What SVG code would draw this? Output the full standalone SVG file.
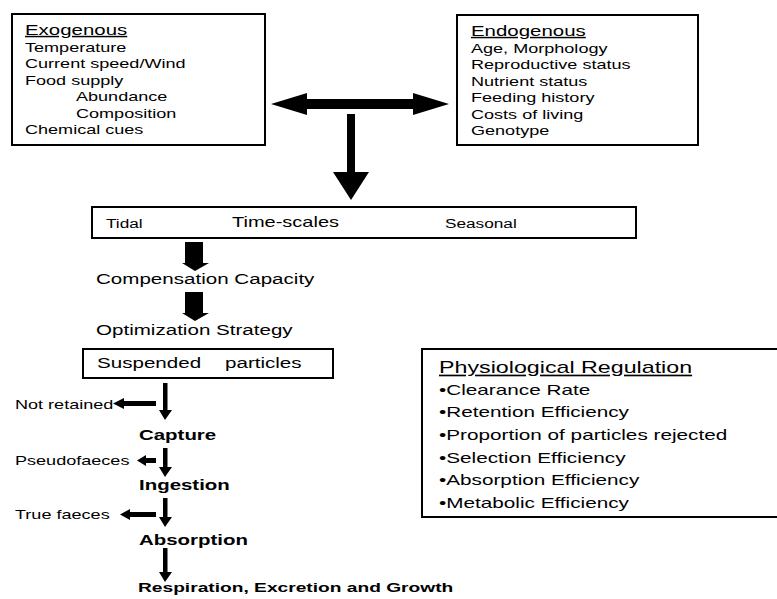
<svg xmlns="http://www.w3.org/2000/svg" width="777" height="599" viewBox="0 0 777 599">
<style>
text{font-family:"Liberation Sans",Arial,sans-serif;fill:#000}
.hd{font-size:14.6px;text-decoration:underline}
.bd{font-size:12.9px}
.ts{font-size:14.3px}
.sm{font-size:12.3px}
.md{font-size:14.7px}
.bo{font-size:14.6px;font-weight:bold}
.bo2{font-size:13.7px;font-weight:bold}
.ph{font-size:16.6px;text-decoration:underline}
.bl{font-size:14.8px}
.box{fill:#fff;stroke:#000;stroke-width:2}
.arr{fill:#000;stroke:none}
</style>
<rect width="777" height="599" fill="#fff"/>
<g id="exogenous">
<rect class="box" x="12" y="14" width="253" height="131"/>
<text class="hd" transform="matrix(1.4 0 0 1 25 35)">Exogenous</text>
<text class="bd" transform="matrix(1.4 0 0 1 25 52)">Temperature</text>
<text class="bd" transform="matrix(1.4 0 0 1 25 68)">Current speed/Wind</text>
<text class="bd" transform="matrix(1.4 0 0 1 25 85)">Food supply</text>
<text class="bd" transform="matrix(1.4 0 0 1 76 101)">Abundance</text>
<text class="bd" transform="matrix(1.4 0 0 1 76 118)">Composition</text>
<text class="bd" transform="matrix(1.4 0 0 1 25 134)">Chemical cues</text>
</g>
<g id="endogenous">
<rect class="box" x="457" y="15" width="241" height="130"/>
<text class="hd" transform="matrix(1.4 0 0 1 471 36)">Endogenous</text>
<text class="bd" transform="matrix(1.4 0 0 1 471 53)">Age, Morphology</text>
<text class="bd" transform="matrix(1.4 0 0 1 471 69)">Reproductive status</text>
<text class="bd" transform="matrix(1.4 0 0 1 471 86)">Nutrient status</text>
<text class="bd" transform="matrix(1.4 0 0 1 471 102)">Feeding history</text>
<text class="bd" transform="matrix(1.4 0 0 1 471 119)">Costs of living</text>
<text class="bd" transform="matrix(1.4 0 0 1 471 135)">Genotype</text>
</g>
<g id="timescales">
<rect class="box" x="92" y="207" width="544" height="31" stroke-width="2.5"/>
<text class="sm" transform="matrix(1.4 0 0 1 106 228)">Tidal</text>
<text class="ts" transform="matrix(1.4 0 0 1 232 227)">Time-scales</text>
<text class="sm" transform="matrix(1.4 0 0 1 445 228)">Seasonal</text>
</g>
<g id="compensation">
<text class="md" transform="matrix(1.4 0 0 1 96 284)">Compensation Capacity</text>
</g>
<g id="optimization">
<text class="md" transform="matrix(1.4 0 0 1 96 335)">Optimization Strategy</text>
</g>
<g id="suspended">
<rect class="box" x="83" y="349" width="250" height="29" stroke-width="1.5"/>
<text class="md" transform="matrix(1.4 0 0 1 97 368)">Suspended</text>
<text class="md" transform="matrix(1.4 0 0 1 225 368)">particles</text>
</g>
<g id="notretained"><text class="bd" transform="matrix(1.4 0 0 1 15 409)">Not retained</text></g>
<g id="capture"><text class="bo" transform="matrix(1.4 0 0 1 139 440)">Capture</text></g>
<g id="pseudofaeces"><text class="bd" transform="matrix(1.4 0 0 1 15 465)">Pseudofaeces</text></g>
<g id="ingestion"><text class="bo" transform="matrix(1.4 0 0 1 139 490)">Ingestion</text></g>
<g id="truefaeces"><text class="bd" transform="matrix(1.4 0 0 1 15 519)">True faeces</text></g>
<g id="absorption"><text class="bo" transform="matrix(1.4 0 0 1 139 545)">Absorption</text></g>
<g id="respiration"><text class="bo2" transform="matrix(1.4 0 0 1 138 592)">Respiration, Excretion and Growth</text></g>
<g id="physiological">
<rect class="box" x="422" y="349" width="370" height="168" stroke-width="3"/>
<text class="ph" transform="matrix(1.4 0 0 1 439 373)">Physiological Regulation</text>
<text class="bl" transform="matrix(1.4 0 0 1 439 395)">•Clearance Rate</text>
<text class="bl" transform="matrix(1.4 0 0 1 439 417)">•Retention Efficiency</text>
<text class="bl" transform="matrix(1.4 0 0 1 439 440)">•Proportion of particles rejected</text>
<text class="bl" transform="matrix(1.4 0 0 1 439 463)">•Selection Efficiency</text>
<text class="bl" transform="matrix(1.4 0 0 1 439 485)">•Absorption Efficiency</text>
<text class="bl" transform="matrix(1.4 0 0 1 439 508)">•Metabolic Efficiency</text>
</g>
<g id="connectors">
<polygon class="arr" points="271,104 307,93 307,99 413,99 413,93 449,104 413,115 413,109 307,109 307,115"/>
<polygon class="arr" points="347,114 355,114 355,172 369,172 351,200 333,172 347,172"/>
<polygon class="arr" points="185,242 203,242 203,263 209,263 195,271 182,263 185,263"/>
<polygon class="arr" points="185,292 203,292 203,313 209,313 195,321 182,313 185,313"/>
<polygon class="arr" points="163,383 167.5,383 167.5,410 172,410 165,420 159,410 163,410"/>
<polygon class="arr" points="163,448 167.5,448 167.5,467 172,467 165,477 159,467 163,467"/>
<polygon class="arr" points="163,498 167.5,498 167.5,517 172,517 165,527 159,517 163,517"/>
<polygon class="arr" points="163,548 167.5,548 167.5,572 172,572 165,582 159,572 163,572"/>
<polygon class="arr" points="156,401 124,401 124,398 113,403.5 124,409 124,406 156,406"/>
<polygon class="arr" points="156,458 146,458 146,455 137,460.5 146,466 146,463 156,463"/>
<polygon class="arr" points="156,512 130,512 130,509 120,514.5 130,520 130,517 156,517"/>
</g>
</svg>
